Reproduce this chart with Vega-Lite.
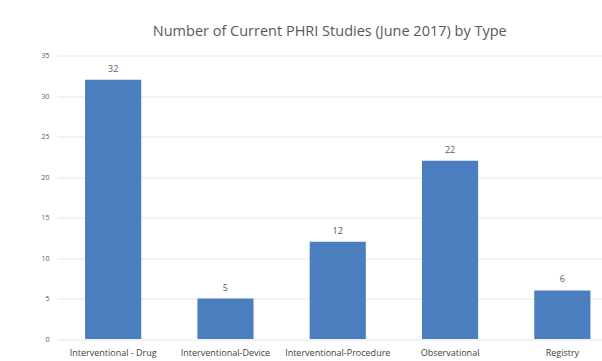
{
  "$schema": "https://vega.github.io/schema/vega-lite/v6.json",
  "autosize": "none",
  "padding": {"left": 57, "top": 55.5, "right": 0, "bottom": 22},
  "width": 561.5,
  "height": 283.5,
  "background": "white",
  "title": {
    "text": "Number of Current PHRI Studies (June 2017) by Type",
    "font": "Open Sans",
    "fontSize": 14.5,
    "fontWeight": "normal",
    "color": "#595959",
    "anchor": "middle",
    "dx": -8,
    "offset": 12
  },
  "data": {
    "values": [
      {"type": "Interventional - Drug", "count": 32},
      {"type": "Interventional-Device", "count": 5},
      {"type": "Interventional-Procedure", "count": 12},
      {"type": "Observational", "count": 22},
      {"type": "Registry", "count": 6}
    ]
  },
  "encoding": {
    "x": {
      "field": "type",
      "type": "nominal",
      "sort": null,
      "scale": {"paddingInner": 0.5, "paddingOuter": 0.25},
      "axis": {
        "title": null,
        "labelAngle": 0,
        "labelFont": "Open Sans",
        "labelFontSize": 9,
        "labelColor": "#404040",
        "labelPadding": 9,
        "ticks": false,
        "domain": false
      }
    },
    "y": {
      "field": "count",
      "type": "quantitative",
      "scale": {"domain": [0, 35]},
      "axis": {
        "title": null,
        "values": [0, 5, 10, 15, 20, 25, 30, 35],
        "labelFont": "Open Sans",
        "labelFontSize": 7,
        "labelColor": "#595959",
        "labelPadding": 8,
        "ticks": false,
        "domain": false,
        "grid": true,
        "gridColor": "#e6e6e6",
        "gridWidth": 1
      }
    }
  },
  "layer": [
    {"mark": {"type": "bar", "color": "#4A7EBF"}},
    {
      "mark": {"type": "text", "dy": -11, "font": "Open Sans", "fontSize": 9, "color": "#595959"},
      "encoding": {"text": {"field": "count", "type": "quantitative"}}
    }
  ],
  "config": {"view": {"stroke": null}}
}
